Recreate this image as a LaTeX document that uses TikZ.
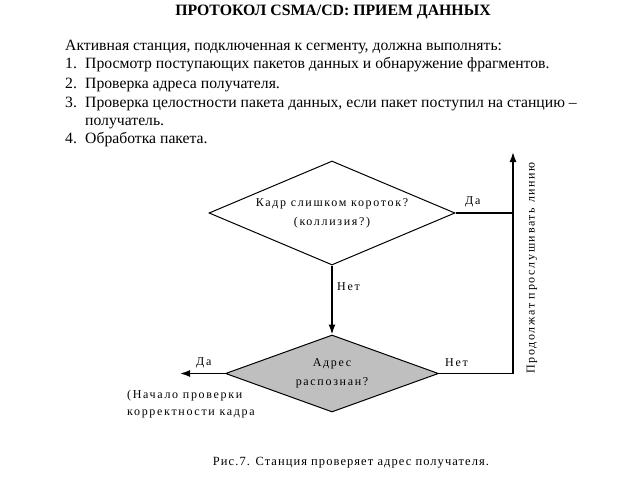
\documentclass[tikz,border=0pt]{standalone}
\usepackage{fontspec}
\setmainfont{Liberation Serif}
\newfontfamily\diagfont[LetterSpace=14]{Liberation Serif}
\newfontfamily\capfont[LetterSpace=8.5]{Liberation Serif}
\usetikzlibrary{shapes.geometric,arrows.meta}
\begin{document}
\begin{tikzpicture}[x=1pt,y=-1pt,
  body/.style={anchor=base west,inner sep=0pt,font=\fontsize{15.7}{18}\selectfont},
  decision/.style={diamond,draw,line width=1pt,inner sep=0pt,align=center,font=\diagfont\fontsize{12}{19}\selectfont},
  lbl/.style={inner sep=0pt,font=\diagfont\fontsize{12}{14}\selectfont},
  conn/.style={line width=1.5pt},
  arr/.style={line width=1.5pt,-{Latex[length=10pt,width=7pt]}}]
\useasboundingbox[fill=white] (0,0) rectangle (638,479);
\node[inner sep=0pt,font=\bfseries\fontsize{15.8}{18}\selectfont] (title) at (333,12) {ПРОТОКОЛ CSMA/CD: ПРИЕМ ДАННЫХ};
\node[body] (l0) at (65,50) {Активная станция, подключенная к сегменту, должна выполнять:};
\node[body] (n1) at (65,68) {1.};
\node[body] (l1) at (85,68) {Просмотр поступающих пакетов данных и обнаружение фрагментов.};
\node[body] (n2) at (65,88) {2.};
\node[body] (l2) at (85,88) {Проверка адреса получателя.};
\node[body] (n3) at (65,107) {3.};
\node[body] (l3) at (85,107) {Проверка целостности пакета данных, если пакет поступил на станцию –};
\node[body] (l3b) at (85,125) {получатель.};
\node[body] (n4) at (65,143) {4.};
\node[body] (l4) at (85,143) {Обработка пакета.};

\node[decision,aspect=2.4,minimum width=246pt,minimum height=104pt] (d1) at (332,213) {Кадр слишком короток?\\(коллизия?)};
\node[decision,aspect=2.8,fill=black!25,minimum width=213pt,minimum height=77pt] (d2) at (332,373.5) {Адрес\\распознан?};

\coordinate (j1) at (513,213);
\coordinate (c2) at (513,373.5);
\coordinate (top) at (513,152);
\coordinate (left) at (180,373.5);

\draw[arr] (d1.south) -- (d2.north);
\draw[conn] (d1.east) -- (j1);
\draw[arr] (d2.east) -- (c2) -- (top);
\draw[arr] (d2.west) -- (left);

\node[lbl,anchor=west] (da1) at (465,202) {Да};
\node[lbl,anchor=west] (net1) at (337,287) {Нет};
\node[lbl,anchor=west] (net2) at (445,363) {Нет};
\node[lbl,anchor=west] (da2) at (196,363) {Да};
\node[lbl,anchor=north west,align=left,font=\diagfont\fontsize{12}{16.5}\selectfont] (note) at (127,390) {(Начало проверки\\корректности кадра};
\node[lbl,rotate=90] (cont) at (532,268) {Продолжат прослушивать линию};
\node[inner sep=0pt,font=\capfont\fontsize{12.5}{14}\selectfont] (cap) at (351,463) {Рис.7. Станция проверяет адрес получателя.};
\end{tikzpicture}
\end{document}
